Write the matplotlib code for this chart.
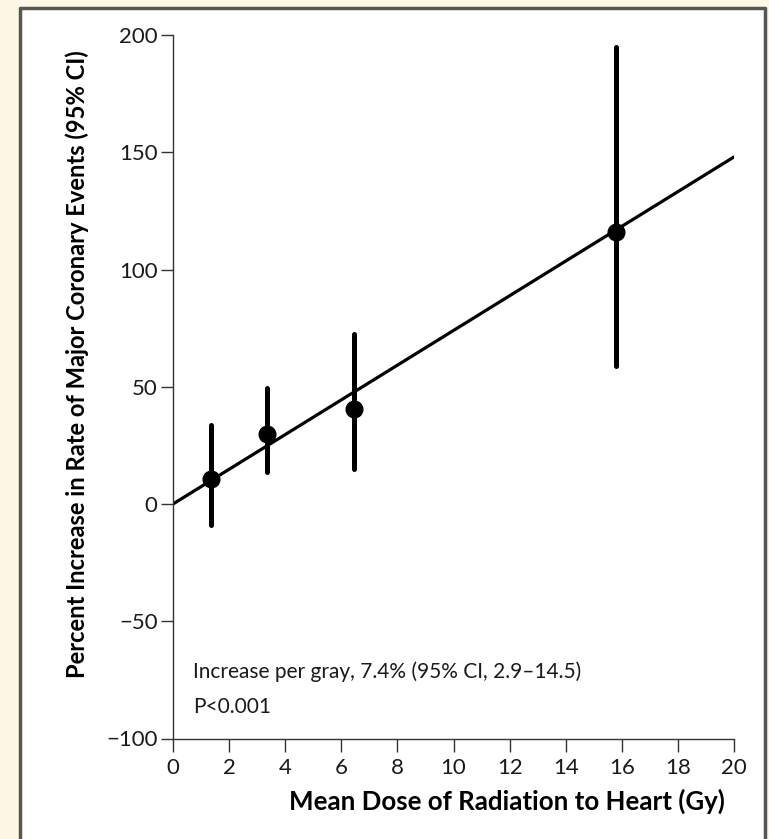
import matplotlib
matplotlib.use("Agg")
import matplotlib.pyplot as plt
from matplotlib.patches import Rectangle
import numpy as np

# dose groups (Gy) and estimated percent increase with 95% CI
dose = [1.35, 3.35, 6.45, 15.8]
pct = [10.5, 30, 40.5, 116]
ci_low = [-9, 13.5, 15, 59]
ci_high = [33.5, 49.5, 72.5, 195]

# fitted line: 7.4% per gray
fit_x = [0, 20]
fit_y = [0, 148]

xticks = list(range(0, 21, 2))
yticks = [-100, -50, 0, 50, 100, 150, 200]

plt.rcParams['font.family'] = ['Lato', 'DejaVu Sans']

W, H = 769, 839
fig = plt.figure(figsize=(W/100, H/100), dpi=100, facecolor='#fdf8e6')

# white panel with grey border (open at the bottom)
fig.add_artist(Rectangle((19.5/W, 0), (765-19.5)/W, (H-8)/H,
                         transform=fig.transFigure, facecolor='white',
                         edgecolor='none', zorder=-5))
fig.add_artist(plt.Line2D([19.5/W, 19.5/W, 765/W, 765/W], [0, 1-8/H, 1-8/H, 0],
                          color='#555555', lw=2.5, transform=fig.transFigure, zorder=-4))

ax = fig.add_axes([173/W, 1-738.5/H, (734-173)/W, (738.5-35)/H])
ax.set_facecolor('none')

ax.plot(fit_x, fit_y, color='black', lw=2.3, solid_capstyle='round', zorder=2)
err = [np.array(pct) - np.array(ci_low), np.array(ci_high) - np.array(pct)]
eb = ax.errorbar(dose, pct, yerr=err, fmt='o', color='black', ms=12, elinewidth=3.6,
                 capsize=0, zorder=3)
for lc in eb[2]:
    lc.set_capstyle('round')

ax.set_xlim(0, 20)
ax.set_ylim(-100, 200)
ax.set_xticks(xticks)
ax.set_yticks(yticks)
ax.set_yticklabels([str(t).replace('-', '\u2212') for t in yticks])
for s in ['top', 'right']:
    ax.spines[s].set_visible(False)
for s in ['left', 'bottom']:
    ax.spines[s].set_color('#333333')
    ax.spines[s].set_linewidth(1.0)
ax.tick_params(direction='out', length=9, width=1.0, color='#333333',
               labelsize=16, labelcolor='#1a1a1a')
ax.tick_params(axis='x', pad=5)
ax.tick_params(axis='y', pad=2)

ax.set_xlabel('Mean Dose of Radiation to Heart (Gy)', fontsize=18.6, fontweight='bold',
              va='center')
ax.xaxis.set_label_coords(0.596, -0.089)
ax.set_ylabel('Percent Increase in Rate of Major Coronary Events (95% CI)', fontsize=17.1,
              fontweight='bold', va='center')
ax.yaxis.set_label_coords(-0.17, 0.532)

ax.text(0.71, -74.2, 'Increase per gray, 7.4% (95% CI, 2.9\u201314.5)',
        fontsize=15, color='#1a1a1a', va='baseline', ha='left')
ax.text(0.71, -89.1, 'P<0.001',
        fontsize=15, color='#1a1a1a', va='baseline', ha='left')

fig.savefig('out.png', dpi=100, facecolor=fig.get_facecolor())
